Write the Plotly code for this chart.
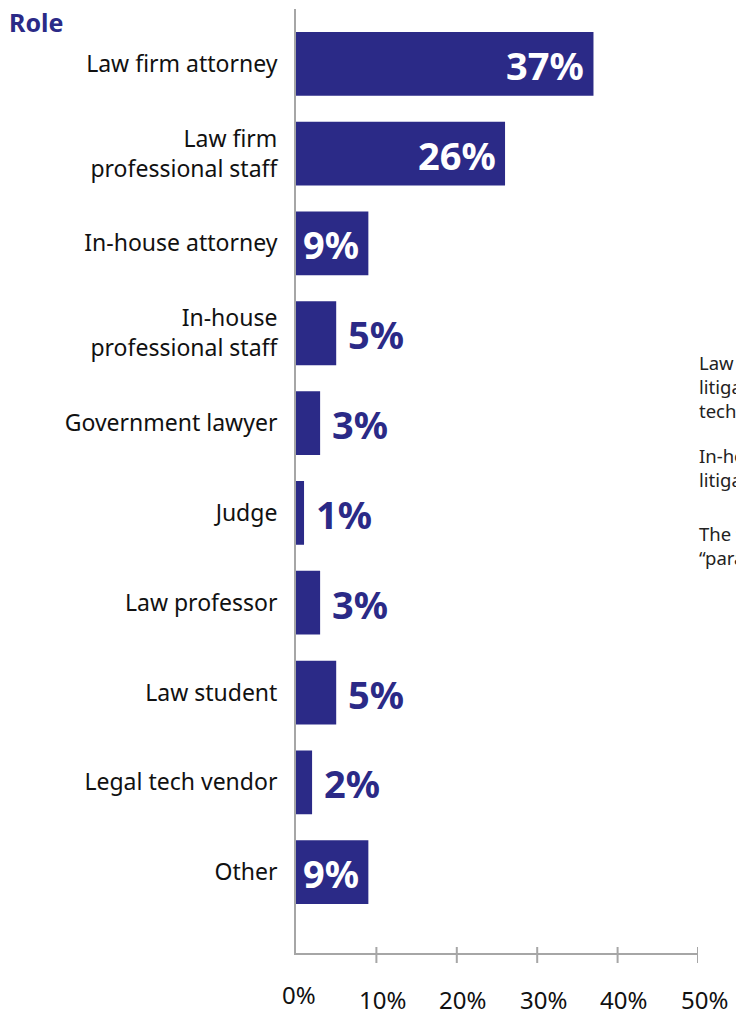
import plotly.graph_objects as go

# Survey respondents by role (share of respondents, %)
roles = [
    "Law firm attorney",
    "Law firm<br>professional staff",
    "In-house attorney",
    "In-house<br>professional staff",
    "Government lawyer",
    "Judge",
    "Law professor",
    "Law student",
    "Legal tech vendor",
    "Other",
]
shares = [37, 26, 9, 5, 3, 1, 3, 5, 2, 9]
tick_values = [0, 10, 20, 30, 40, 50]
tick_labels = ["0%", "10%", "20%", "30%", "40%", "50%"]
notes = [
    "Law firm professional staff includes<br>litigation support, paralegals and<br>technology staff.",
    "In-house professional staff includes<br>litigation support and legal operations.",
    "The \u201cOther\u201d category includes<br>\u201cparalegal\u201d and consultant responses.",
]

NAVY = "#2b2a87"
GRAY = "#a6a6a6"
FONT = "Noto Sans"

W, H = 736, 1011
L, R, T, B = 296, 38, 9, 58
plot_h = H - T - B

fig = go.Figure()
fig.add_trace(go.Bar(
    x=shares,
    y=roles,
    orientation="h",
    width=0.71,
    marker=dict(color=NAVY, line=dict(width=0)),
    hoverinfo="skip",
))

annotations = []
# value labels: inside the bar for wide bars, just past the end otherwise
for role, v in zip(roles, shares):
    inside = v >= 9
    annotations.append(dict(
        x=v, y=role, xref="x", yref="y",
        text=f"<b>{v}%</b>",
        showarrow=False,
        xanchor="right" if inside else "left",
        xshift=-7 if inside else 10,
        yshift=-1,
        font=dict(family=FONT, size=38, color="white" if inside else NAVY),
    ))

# x-axis tick labels
for tv, tl in zip(tick_values, tick_labels):
    annotations.append(dict(
        x=tv, y=0, xref="x", yref="paper",
        text=tl, showarrow=False,
        xanchor="center", yanchor="middle",
        xshift=3 if tv == 0 else 6,
        yshift=-41 if tv == 0 else -46,
        font=dict(family=FONT, size=24, color="#111111"),
    ))

# heading
annotations.append(dict(
    x=(7 - L) / (W - L - R), y=(H - B - 22) / plot_h,
    xref="paper", yref="paper",
    text="<b>Role</b>", showarrow=False,
    xanchor="left", yanchor="middle",
    font=dict(family=FONT, size=25, color=NAVY),
))

# side notes
note_centers = [386, 467, 545]
for txt, yc in zip(notes, note_centers):
    annotations.append(dict(
        x=(697 - L) / (W - L - R), y=(H - B - yc) / plot_h,
        xref="paper", yref="paper",
        text=txt, showarrow=False,
        xanchor="left", yanchor="middle", align="left",
        font=dict(family=FONT, size=18.5, color="#222222"),
    ))

# tick marks crossing the x-axis line
shapes = []
for tv in tick_values[1:]:
    shapes.append(dict(
        type="line", xref="x", yref="paper",
        x0=tv, x1=tv, y0=-10, y1=6,
        ysizemode="pixel", yanchor=0,
        line=dict(color=GRAY, width=2),
    ))

fig.update_layout(
    width=W, height=H,
    margin=dict(l=L, r=R, t=T, b=B, pad=0),
    paper_bgcolor="white",
    plot_bgcolor="white",
    showlegend=False,
    font=dict(family=FONT, size=23, color="#111111"),
    annotations=annotations,
    shapes=shapes,
    xaxis=dict(
        range=[0, 50],
        showgrid=False, zeroline=False,
        showticklabels=False, ticks="",
        showline=True, linecolor=GRAY, linewidth=2,
        fixedrange=True,
    ),
    yaxis=dict(
        type="category",
        categoryorder="array", categoryarray=roles,
        range=[9.9, -0.61],
        showgrid=False, zeroline=False,
        showline=True, linecolor=GRAY, linewidth=2,
        ticks="", ticklabelstandoff=12,
        tickfont=dict(family=FONT, size=23, color="#111111"),
        fixedrange=True,
    ),
)

fig.write_html("out.html")
